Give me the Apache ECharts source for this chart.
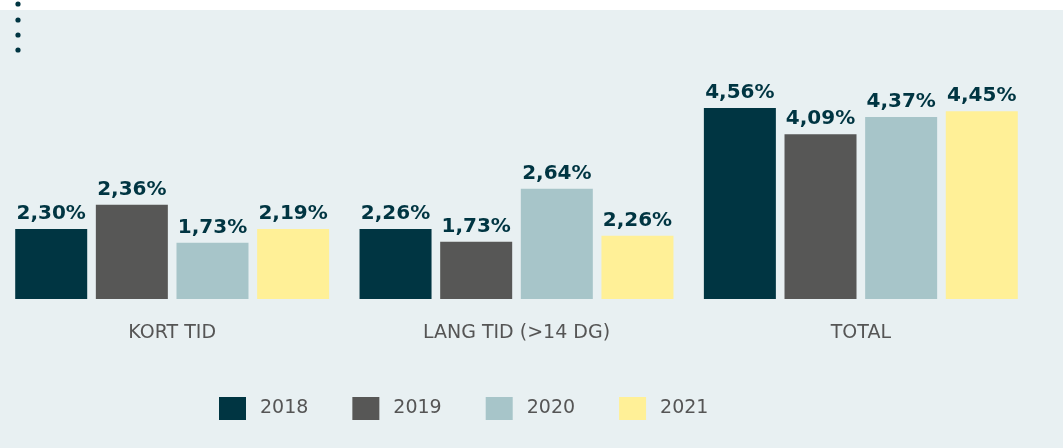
<!DOCTYPE html>
<html>
<head>
<meta charset="utf-8">
<script src="https://cdn.jsdelivr.net/npm/echarts@6/dist/echarts.min.js"></script>
<style>
    html, body { margin: 0; padding: 0; background: #ffffff; }
    #main {
        width: 1063px;
        height: 448px;
        background: linear-gradient(to bottom, #ffffff 0, #ffffff 10px, #e8f0f2 10px, #e8f0f2 100%);
    }
</style>
</head>
<body>
<div id="main"></div>
<script>
// kategorier og år
var categories = ["KORT TID", "LANG TID (>14 DG)", "TOTAL"];
var years = ["2018", "2019", "2020", "2021"];
var colors = ["#003542", "#575756", "#a7c5c9", "#fff097"];

// søjlehøjder
var bars2018 = [2.31, 2.31, 4.57];
var bars2019 = [2.76, 2.07, 4.08];
var bars2020 = [2.05, 3.06, 4.40];
var bars2021 = [2.31, 2.18, 4.51];

// tallene der står over søjlerne
var labels2018 = [2.30, 2.26, 4.56];
var labels2019 = [2.36, 1.73, 4.09];
var labels2020 = [1.73, 2.64, 4.37];
var labels2021 = [2.19, 2.26, 4.45];

var barData = [bars2018, bars2019, bars2020, bars2021];
var labelData = [labels2018, labels2019, labels2020, labels2021];

function fmt(v) {
    return v.toFixed(2).replace(".", ",") + "%";
}

var myChart = echarts.init(document.getElementById("main"));

var series = years.map(function (year, i) {
    return {
        name: year,
        type: "bar",
        barWidth: 72,
        barGap: "12%",
        itemStyle: { color: colors[i] },
        label: {
            show: true,
            position: "top",
            distance: 5,
            color: "#003542",
            fontFamily: "DejaVu Sans",
            fontWeight: "bold",
            fontSize: 20,
            formatter: function (p) {
                return fmt(labelData[p.seriesIndex][p.dataIndex]);
            }
        },
        emphasis: { disabled: true },
        data: barData[i]
    };
});

var option = {
    animation: false,
    grid: { left: -2, right: 30, top: 85, bottom: 149 },
    xAxis: {
        type: "category",
        data: categories,
        axisLine: { show: false },
        axisTick: { show: false },
        axisLabel: {
            margin: 25,
            color: "#555555",
            fontFamily: "DejaVu Sans",
            fontSize: 19
        }
    },
    yAxis: {
        type: "value",
        min: 1,
        max: 5,
        show: false
    },
    legend: {
        left: 214,
        top: 392,
        itemWidth: 27,
        itemHeight: 23,
        itemGap: 44,
        icon: "rect",
        textStyle: {
            color: "#555555",
            fontFamily: "DejaVu Sans",
            fontSize: 19,
            padding: [0, 0, 0, 9]
        },
        data: years
    },
    graphic: [
        { type: "circle", shape: { cx: 18, cy: 4, r: 2.6 }, style: { fill: "#003542" } },
        { type: "circle", shape: { cx: 18, cy: 20, r: 2.6 }, style: { fill: "#003542" } },
        { type: "circle", shape: { cx: 18, cy: 35, r: 2.6 }, style: { fill: "#003542" } },
        { type: "circle", shape: { cx: 18, cy: 50, r: 2.6 }, style: { fill: "#003542" } }
    ],
    series: series
};

myChart.setOption(option);
</script>
</body>
</html>
